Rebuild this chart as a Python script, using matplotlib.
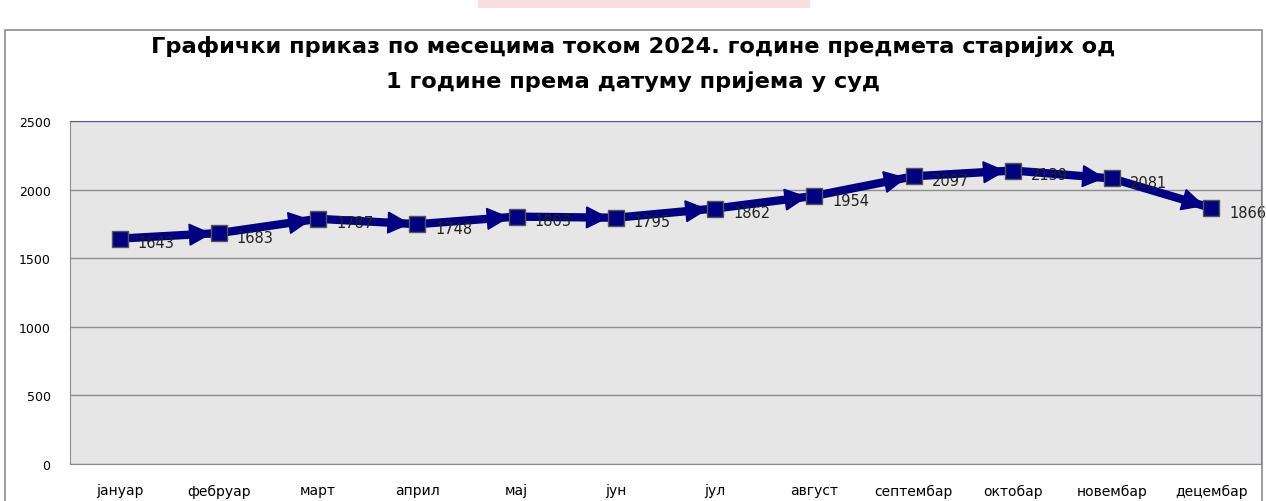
import matplotlib
matplotlib.use("Agg")
import matplotlib.pyplot as plt
from matplotlib.patches import Rectangle

plt.rcParams['font.family'] = ['DejaVu Sans']

months = ['јануар', 'фебруар', 'март', 'април', 'мај', 'јун',
          'јул', 'август', 'септембар', 'октобар', 'новембар', 'децембар']
values = [1643, 1683, 1787, 1748, 1803, 1795, 1862, 1954, 2097, 2139, 2081, 1866]
yticks = [0, 500, 1000, 1500, 2000, 2500]
title = ('Графички приказ по месецима током 2024. године предмета старијих од\n'
         '1 године према датуму пријема у суд')

W, H = 1266, 502
fig = plt.figure(figsize=(W / 100, H / 100), dpi=100)
ax = fig.add_axes([70 / W, 1 - 465 / H, 1191 / W, 343 / H])

# outer chart frame + faded pink strip at the very top (cut-off banner)
fig.patches.append(Rectangle((5 / W, -0.01), 1257 / W, 1 - 31 / H + 0.01,
                             transform=fig.transFigure, fill=False,
                             edgecolor='#8c8c8c', linewidth=1.2))
fig.patches.append(Rectangle((478 / W, 1 - 9 / H), 332 / W, 9 / H,
                             transform=fig.transFigure, facecolor='#fadde1',
                             edgecolor='none'))

x = list(range(len(months)))
ax.set_facecolor('#e6e6e6')
ax.plot(x, values, color='#000080', linewidth=6, solid_capstyle='butt', zorder=3)
for i in range(len(x) - 1):
    ax.annotate('', xy=(x[i + 1], values[i + 1]), xytext=(x[i], values[i]),
                arrowprops=dict(arrowstyle='-|>,head_length=1.5,head_width=0.75',
                                color='#000080', lw=1, joinstyle='miter',
                                shrinkA=0, shrinkB=5),
                zorder=4)
ax.plot(x, values, linestyle='none', marker='s', markersize=11,
        markerfacecolor='#000080', markeredgecolor='#555555', markeredgewidth=1,
        zorder=5)
for xi, v in zip(x, values):
    ax.annotate(str(v), (xi, v), xytext=(13, -3), textcoords='offset points',
                ha='left', va='center', fontsize=10.5,
                color='#222222', zorder=6)

ax.set_xlim(-0.5, len(months) - 0.5)
ax.set_ylim(0, 2500)
ax.set_yticks(yticks)
ax.set_yticklabels([str(t) for t in yticks], fontsize=9)
ax.set_xticks(x)
ax.set_xticklabels(months, fontsize=10)
ax.tick_params(axis='x', length=0, pad=14)
ax.tick_params(axis='y', length=0, pad=14)
ax.yaxis.grid(True, color='#8c8c8c', linewidth=1)
ax.set_axisbelow(True)
for s in ['left', 'bottom']:
    ax.spines[s].set_color('#8c8c8c')
for s in ['top', 'right']:
    ax.spines[s].set_color('#5a5aa0')

fig.text(0.5, 1 - 64 / H, title, ha='center', va='center', fontsize=16.2,
         fontweight='bold', linespacing=1.85)

fig.savefig('out.png', dpi=100)
